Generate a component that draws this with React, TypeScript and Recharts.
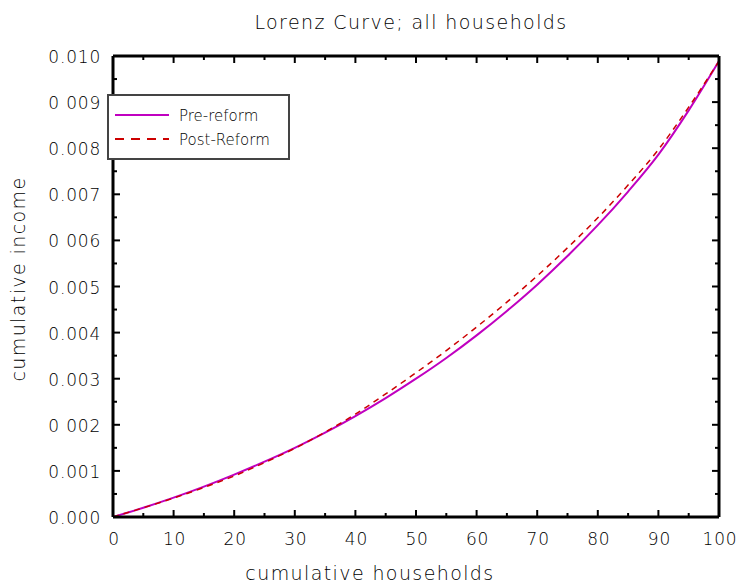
import { LineChart, Line, XAxis, YAxis, Legend } from 'recharts';

// cumulative share of households (%)
const households = [0, 5, 10, 15, 20, 25, 30, 35, 40, 45, 50, 55, 60, 65, 70, 75, 80, 85, 90, 95, 100];
const preReform = [0, 0.0002, 0.00042, 0.00066, 0.00092, 0.0012, 0.0015, 0.00183, 0.00219, 0.00258, 0.003, 0.00345, 0.00394, 0.00447, 0.00504, 0.00566, 0.00633, 0.00706, 0.00786, 0.00882, 0.00989];
const postReform = [0, 0.0002, 0.00041, 0.00064, 0.00089, 0.00118, 0.00149, 0.00184, 0.00223, 0.00267, 0.00313, 0.00361, 0.00412, 0.00466, 0.00523, 0.00584, 0.00649, 0.0072, 0.00797, 0.00889, 0.00989];

const xMajor = [0, 10, 20, 30, 40, 50, 60, 70, 80, 90, 100];
const xMinor = [5, 15, 25, 35, 45, 55, 65, 75, 85, 95];
const yMajor = [0, 0.001, 0.002, 0.003, 0.004, 0.005, 0.006, 0.007, 0.008, 0.009, 0.01];
const yMinor = [0.0005, 0.0015, 0.0025, 0.0035, 0.0045, 0.0055, 0.0065, 0.0075, 0.0085, 0.0095];
const yLabels = ['0.000', '0.001', '0 002', '0.003', '0.004', '0.005', '0 006', '0.007', '0.008', '0 009', '0.010'];

const data = households.map((h, i) => ({ h, pre: preReform[i], post: postReform[i] }));

const FONT = '"DejaVu Sans", sans-serif';
const tickStyle = { fontFamily: FONT, fontSize: 17, fontWeight: 200, letterSpacing: 0.8, fill: '#000' };
const titleStyle = { fontFamily: FONT, fontSize: 19, fontWeight: 200, letterSpacing: 1.4, fill: '#000' };

const MAJOR = 7;
const MINOR = 4;

// ticks drawn by hand so they point into the plot, short for the minor ones
const BottomTick = (props: any) => {
  const { x, y, payload } = props;
  const i = xMajor.indexOf(payload.value);
  const len = i >= 0 ? MAJOR : MINOR;
  return (
    <g>
      <line x1={x} x2={x} y1={y} y2={y - len} stroke="#000" strokeWidth={2} />
      {i >= 0 && (
        <text x={x + 1} y={y + 28} textAnchor="middle" style={tickStyle}>
          {payload.value}
        </text>
      )}
    </g>
  );
};

const TopTick = (props: any) => {
  const { x, y, payload } = props;
  const len = xMajor.indexOf(payload.value) >= 0 ? MAJOR : MINOR;
  return <line x1={x} x2={x} y1={y} y2={y + len} stroke="#000" strokeWidth={2} />;
};

const LeftTick = (props: any) => {
  const { x, y, payload } = props;
  const i = yMajor.indexOf(payload.value);
  const len = i >= 0 ? MAJOR : MINOR;
  return (
    <g>
      <line x1={x} x2={x + len} y1={y} y2={y} stroke="#000" strokeWidth={2} />
      {i >= 0 && (
        <text x={x - 12} y={y + 7} textAnchor="end" style={tickStyle}>
          {yLabels[i]}
        </text>
      )}
    </g>
  );
};

const RightTick = (props: any) => {
  const { x, y, payload } = props;
  const len = yMajor.indexOf(payload.value) >= 0 ? MAJOR : MINOR;
  return <line x1={x} x2={x - len} y1={y} y2={y} stroke="#000" strokeWidth={2} />;
};

const YTitle = (props: any) => {
  const { viewBox } = props;
  const cx = viewBox.x + 25;
  const cy = 279;
  return (
    <text x={cx} y={cy} textAnchor="middle" transform={`rotate(-90, ${cx}, ${cy})`} style={titleStyle}>
      cumulative income
    </text>
  );
};

const XTitle = (props: any) => {
  const { viewBox } = props;
  return (
    <text x={370} y={viewBox.y + 63} textAnchor="middle" style={titleStyle}>
      cumulative households
    </text>
  );
};

const MainTitle = (props: any) => {
  const { viewBox } = props;
  const cx = viewBox.x + viewBox.width / 2 - 5;
  return (
    <text x={cx} y={viewBox.y - 27} textAnchor="middle" style={titleStyle}>
      Lorenz Curve; all households
    </text>
  );
};

const legendText = { fontFamily: FONT, fontSize: 15, fontWeight: 200, fill: '#000' };

const LegendBox = () => (
  <div
    style={{
      width: 183,
      height: 66,
      border: '2px solid #444',
      background: '#fff',
      boxSizing: 'border-box',
    }}
  >
    <svg width={179} height={62}>
      <line x1={6} x2={60} y1={19} y2={19} stroke="#c000c0" strokeWidth={2} />
      <text x={70} y={25} style={legendText}>Pre-reform</text>
      <line x1={6} x2={60} y1={43} y2={43} stroke="#cc0000" strokeWidth={2} strokeDasharray="9 7" />
      <text x={70} y={49} style={legendText}>Post-Reform</text>
    </svg>
  </div>
);

export default function App() {
  return (
    <div style={{ position: 'absolute', left: 0, top: 0, width: 736, height: 584, background: '#fff' }}>
      <LineChart width={736} height={584} data={data} margin={{ top: 56, right: 17, bottom: 0, left: 0 }}>
        <XAxis
          dataKey="h"
          type="number"
          domain={[0, 100]}
          ticks={[...xMajor, ...xMinor]}
          height={67}
          tickSize={0}
          tickMargin={0}
          tickLine={false}
          tick={<BottomTick />}
          axisLine={{ stroke: '#000', strokeWidth: 3 }}
          label={<XTitle />}
          interval={0}
        />
        {/* 1px axes on top and right: zero-size axes are not drawn */}
        <XAxis
          xAxisId="top"
          orientation="top"
          dataKey="h"
          type="number"
          domain={[0, 100]}
          ticks={[...xMajor, ...xMinor]}
          height={1}
          mirror
          tickSize={0}
          tickMargin={0}
          tickLine={false}
          tick={<TopTick />}
          axisLine={{ stroke: '#000', strokeWidth: 3 }}
          label={<MainTitle />}
          interval={0}
        />
        <YAxis
          type="number"
          domain={[0, 0.01]}
          ticks={[...yMajor, ...yMinor]}
          width={113}
          tickSize={0}
          tickMargin={0}
          tickLine={false}
          tick={<LeftTick />}
          axisLine={{ stroke: '#000', strokeWidth: 3 }}
          label={<YTitle />}
          interval={0}
        />
        <YAxis
          yAxisId="right"
          orientation="right"
          type="number"
          domain={[0, 0.01]}
          ticks={[...yMajor, ...yMinor]}
          width={1}
          mirror
          tickSize={0}
          tickMargin={0}
          tickLine={false}
          tick={<RightTick />}
          axisLine={{ stroke: '#000', strokeWidth: 3 }}
          interval={0}
        />
        <Legend
          layout="horizontal"
          verticalAlign="middle"
          align="center"
          content={<LegendBox />}
          wrapperStyle={{ left: 107, top: 94, width: 183, height: 66 }}
        />
        <Line
          dataKey="pre"
          name="Pre-reform"
          type="monotone"
          stroke="#c000c0"
          strokeWidth={2}
          dot={false}
          isAnimationActive={false}
        />
        {/* same domains as the main axes; bound here so the top and right frame axes are drawn */}
        <Line
          dataKey="post"
          name="Post-Reform"
          xAxisId="top"
          yAxisId="right"
          type="monotone"
          stroke="#cc0000"
          strokeWidth={1.5}
          strokeDasharray="6 5"
          dot={false}
          isAnimationActive={false}
        />
      </LineChart>
    </div>
  );
}
